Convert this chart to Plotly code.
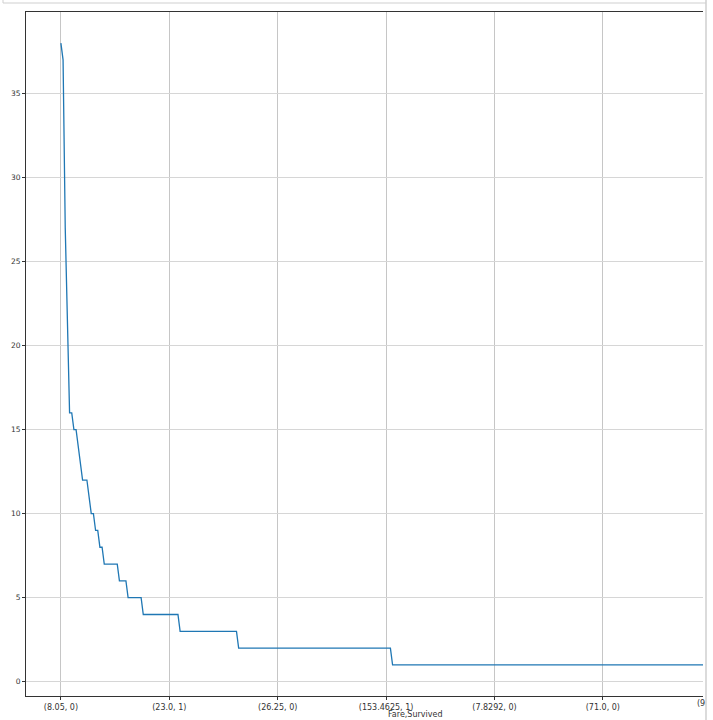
import plotly.graph_objects as go

# ---- data (value counts of (Fare, Survived), in index order) ----
counts = [
    38, 37, 27, 22, 16, 16, 15, 15, 14, 13,
    12, 12, 12, 11, 10, 10, 9, 9, 8, 8,
    7, 7, 7, 7, 7, 7, 7, 6, 6, 6,
    6, 5, 5, 5, 5, 5, 5, 5, 4, 4,
    4, 4, 4, 4, 4, 4, 4, 4, 4, 4,
    4, 4, 4, 4, 4, 3, 3, 3, 3, 3,
    3, 3, 3, 3, 3, 3, 3, 3, 3, 3,
    3, 3, 3, 3, 3, 3, 3, 3, 3, 3,
    3, 3, 2, 2, 2, 2, 2, 2, 2, 2,
    2, 2, 2, 2, 2, 2, 2, 2, 2, 2,
    2, 2, 2, 2, 2, 2, 2, 2, 2, 2,
    2, 2, 2, 2, 2, 2, 2, 2, 2, 2,
    2, 2, 2, 2, 2, 2, 2, 2, 2, 2,
    2, 2, 2, 2, 2, 2, 2, 2, 2, 2,
    2, 2, 2, 2, 2, 2, 2, 2, 2, 2,
    2, 2, 2, 1, 1, 1, 1, 1, 1, 1,
    1, 1, 1, 1, 1, 1, 1, 1, 1, 1,
    1, 1, 1, 1, 1, 1, 1, 1, 1, 1,
    1, 1, 1, 1, 1, 1, 1, 1, 1, 1,
    1, 1, 1, 1, 1, 1, 1, 1, 1, 1,
    1, 1, 1, 1, 1, 1, 1, 1, 1, 1,
    1, 1, 1, 1, 1, 1, 1, 1, 1, 1,
    1, 1, 1, 1, 1, 1, 1, 1, 1, 1,
    1, 1, 1, 1, 1, 1, 1, 1, 1, 1,
    1, 1, 1, 1, 1, 1, 1, 1, 1, 1,
    1, 1, 1, 1, 1, 1, 1, 1, 1, 1,
    1, 1, 1, 1, 1, 1, 1, 1, 1, 1,
    1, 1, 1, 1, 1, 1, 1, 1, 1, 1,
    1, 1, 1, 1, 1, 1, 1, 1, 1, 1,
    1, 1, 1, 1, 1, 1, 1, 1, 1, 1,
    1, 1, 1, 1, 1, 1, 1, 1, 1, 1,
    1, 1, 1, 1, 1, 1, 1, 1, 1, 1,
    1, 1, 1, 1, 1, 1, 1, 1, 1, 1,
    1,
]
x_tick_positions = [0, 50, 100, 150, 200, 250]
x_tick_labels = ["(8.05, 0)", "(23.0, 1)", "(26.25, 0)", "(153.4625, 1)", "(7.8292, 0)", "(71.0, 0)"]
cut_tick_label = "(9"
y_tick_values = [0, 5, 10, 15, 20, 25, 30, 35]
x_title = "Fare,Survived"

# ---- layout geometry ----
W, H = 713, 720
L, R, T, B = 26, 10, 12, 24
pw, ph = W - L - R, H - T - B


def pxx(px):
    return (px - L) / pw


def pxy(py):
    return (H - B - py) / ph


FONT = "DejaVu Sans"
TXT = "#333333"

fig = go.Figure(
    go.Scatter(
        x=list(range(len(counts))),
        y=counts,
        mode="lines",
        line=dict(color="#1f77b4", width=1.3),
        showlegend=False,
    )
)

fig.update_layout(
    width=W,
    height=H,
    margin=dict(l=L, r=R, t=T, b=B, pad=0),
    paper_bgcolor="white",
    plot_bgcolor="white",
    font=dict(family=FONT, size=8, color=TXT),
    xaxis=dict(
        range=[-16.1, 296.2],
        tickmode="array",
        tickvals=x_tick_positions,
        ticktext=x_tick_labels,
        showgrid=True,
        gridcolor="#c6c6c6",
        gridwidth=1,
        zeroline=False,
        showline=True,
        linecolor="#333333",
        linewidth=1,
        mirror=True,
        ticks="outside",
        ticklen=3,
        tickcolor="#333333",
        tickfont=dict(family=FONT, size=8, color=TXT),
        automargin=False,
    ),
    yaxis=dict(
        range=[-0.85, 39.85],
        tickmode="array",
        tickvals=y_tick_values,
        ticktext=[str(v) for v in y_tick_values],
        showgrid=True,
        gridcolor="#d6d6d6",
        gridwidth=1,
        zeroline=False,
        showline=True,
        linecolor="#333333",
        linewidth=1,
        mirror=False,
        ticks="outside",
        ticklen=3,
        tickcolor="#333333",
        tickfont=dict(family=FONT, size=7.5, color=TXT),
        automargin=False,
    ),
    annotations=[
        dict(
            text=x_title, xref="paper", yref="paper",
            x=pxx(415), y=pxy(715), xanchor="center", yanchor="middle",
            showarrow=False, font=dict(family=FONT, size=8, color=TXT),
        ),
        dict(
            text=cut_tick_label, xref="paper", yref="paper",
            x=pxx(695), y=pxy(704), xanchor="left", yanchor="middle",
            showarrow=False, font=dict(family=FONT, size=8, color=TXT),
        ),
    ],
    shapes=[
        # frame of the surrounding output area
        dict(type="line", xref="paper", yref="paper",
             x0=pxx(3), x1=pxx(706), y0=pxy(3), y1=pxy(3),
             line=dict(color="#cfcfcf", width=1)),
        dict(type="line", xref="paper", yref="paper",
             x0=pxx(3), x1=pxx(3), y0=pxy(0), y1=pxy(3),
             line=dict(color="#cfcfcf", width=1)),
        dict(type="line", xref="paper", yref="paper",
             x0=pxx(706), x1=pxx(706), y0=pxy(0), y1=pxy(720),
             line=dict(color="#cfcfcf", width=1.5)),
    ],
)

fig.write_html(
    "out.html",
    config={"displayModeBar": False},
    post_script="document.body.style.margin='0';document.body.style.overflow='hidden';",
)
